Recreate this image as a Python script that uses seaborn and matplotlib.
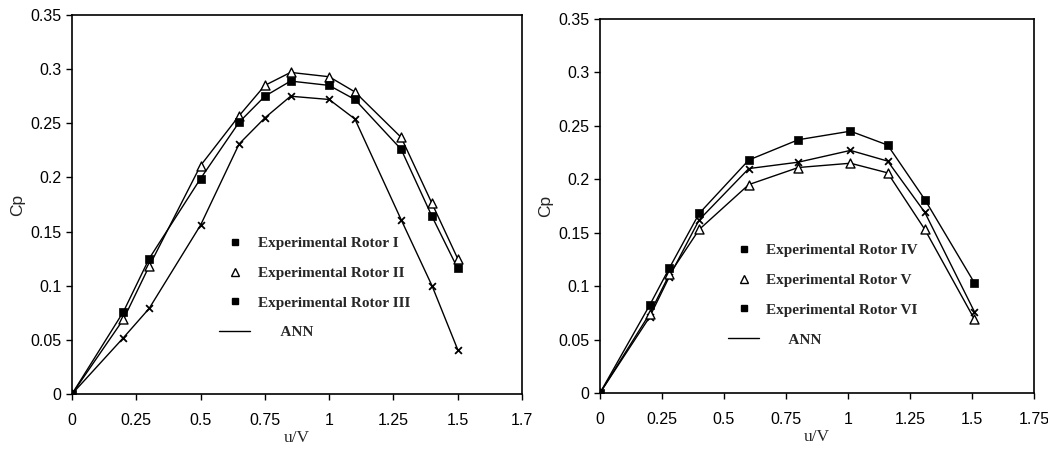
import numpy as np
import pandas as pd
import matplotlib
matplotlib.use("Agg")
import matplotlib.pyplot as plt
from matplotlib.lines import Line2D
import seaborn as sns

# data
u_left = [0, 0.2, 0.3, 0.5, 0.65, 0.75, 0.85, 1.0, 1.1, 1.28, 1.4, 1.5]
cp_rotor1 = [0, 0.052, 0.079, 0.156, 0.231, 0.255, 0.275, 0.272, 0.254, 0.161, 0.100, 0.041]
cp_rotor2 = [0, 0.069, 0.118, 0.211, 0.257, 0.285, 0.297, 0.293, 0.279, 0.237, 0.176, 0.125]
cp_rotor3 = [0, 0.076, 0.125, 0.199, 0.251, 0.275, 0.289, 0.285, 0.272, 0.226, 0.164, 0.116]

u_right = [0, 0.2, 0.28, 0.4, 0.6, 0.8, 1.01, 1.16, 1.31, 1.51]
cp_rotor4 = [0, 0.071, 0.109, 0.162, 0.210, 0.216, 0.227, 0.217, 0.169, 0.076]
cp_rotor5 = [0, 0.074, 0.111, 0.153, 0.195, 0.211, 0.215, 0.206, 0.153, 0.069]
cp_rotor6 = [0, 0.082, 0.117, 0.168, 0.218, 0.237, 0.245, 0.232, 0.181, 0.103]

left_labels = ['Experimental Rotor I', 'Experimental Rotor II', 'Experimental Rotor III']
right_labels = ['Experimental Rotor IV', 'Experimental Rotor V', 'Experimental Rotor VI']
xticks = [0, 0.25, 0.5, 0.75, 1, 1.25, 1.5, 1.75]
left_xticklabels = ['0', '0.25', '0.5', '0.75', '1', '1.25', '1.5', '1.7']
right_xticklabels = ['0', '0.25', '0.5', '0.75', '1', '1.25', '1.5', '1.75']
yticks = [0, 0.05, 0.1, 0.15, 0.2, 0.25, 0.3, 0.35]

sns.set_style("white")
plt.rcParams['font.family'] = ['Liberation Sans', 'DejaVu Sans']

fig = plt.figure(figsize=(10.48, 4.55), dpi=100)
ax1 = fig.add_axes([0.0687, 0.134, 0.4294, 0.833])
ax2 = fig.add_axes([0.5725, 0.1363, 0.4141, 0.822])

# marker styles: star-ish cross, open triangle, filled square
styles = [
    dict(marker='x', s=24, linewidth=1.3, color='black'),
    dict(marker='^', s=42, facecolor='white', edgecolor='black', linewidth=1.0),
    dict(marker='s', s=38, color='black', edgecolor='black'),
]


def draw_panel(ax, u, series, labels, xticklabels, leg_anchor):
    for cp, st in zip(series, styles):
        df = pd.DataFrame({'u': u, 'cp': cp})
        # ANN line through the points
        sns.lineplot(data=df, x='u', y='cp', ax=ax, color='black', linewidth=1.0,
                     sort=False, zorder=2)
        sns.scatterplot(data=df, x='u', y='cp', ax=ax, zorder=3, **st)

    ax.set_xlim(0, 1.75)
    ax.set_ylim(0, 0.35)
    ax.set_xticks(xticks)
    ax.set_xticklabels(xticklabels)
    ax.set_yticks(yticks)
    ax.set_yticklabels([f'{t:g}' for t in yticks])
    ax.tick_params(direction='out', length=4, width=1, labelsize=11.5,
                   bottom=True, left=True, colors='black')
    ax.tick_params(axis='x', pad=10)
    for sp in ax.spines.values():
        sp.set_color('black')
        sp.set_linewidth(1.2)
    ax.set_xlabel('u/V', family='Liberation Serif', fontsize=12.5, labelpad=1)
    ax.set_ylabel('Cp', fontsize=12.5, labelpad=4)

    handles = [
        Line2D([], [], linestyle='none', marker='s', markersize=4, color='black'),
        Line2D([], [], linestyle='none', marker='^', markersize=6,
               markerfacecolor='white', markeredgecolor='black'),
        Line2D([], [], linestyle='none', marker='s', markersize=5, color='black'),
        Line2D([], [], color='black', linewidth=1.0),
    ]
    names = labels + ['      ANN']
    leg = ax.legend(handles, names, loc='upper left', bbox_to_anchor=leg_anchor,
                    frameon=False, labelspacing=1.05, handlelength=2.0,
                    handletextpad=0.5,
                    prop={'family': 'Liberation Serif', 'weight': 'bold', 'size': 11})
    return leg


draw_panel(ax1, u_left, [cp_rotor1, cp_rotor2, cp_rotor3], left_labels,
           left_xticklabels, (0.297, 0.452))
draw_panel(ax2, u_right, [cp_rotor4, cp_rotor5, cp_rotor6], right_labels,
           right_xticklabels, (0.264, 0.436))

fig.savefig('out.png', dpi=100)
